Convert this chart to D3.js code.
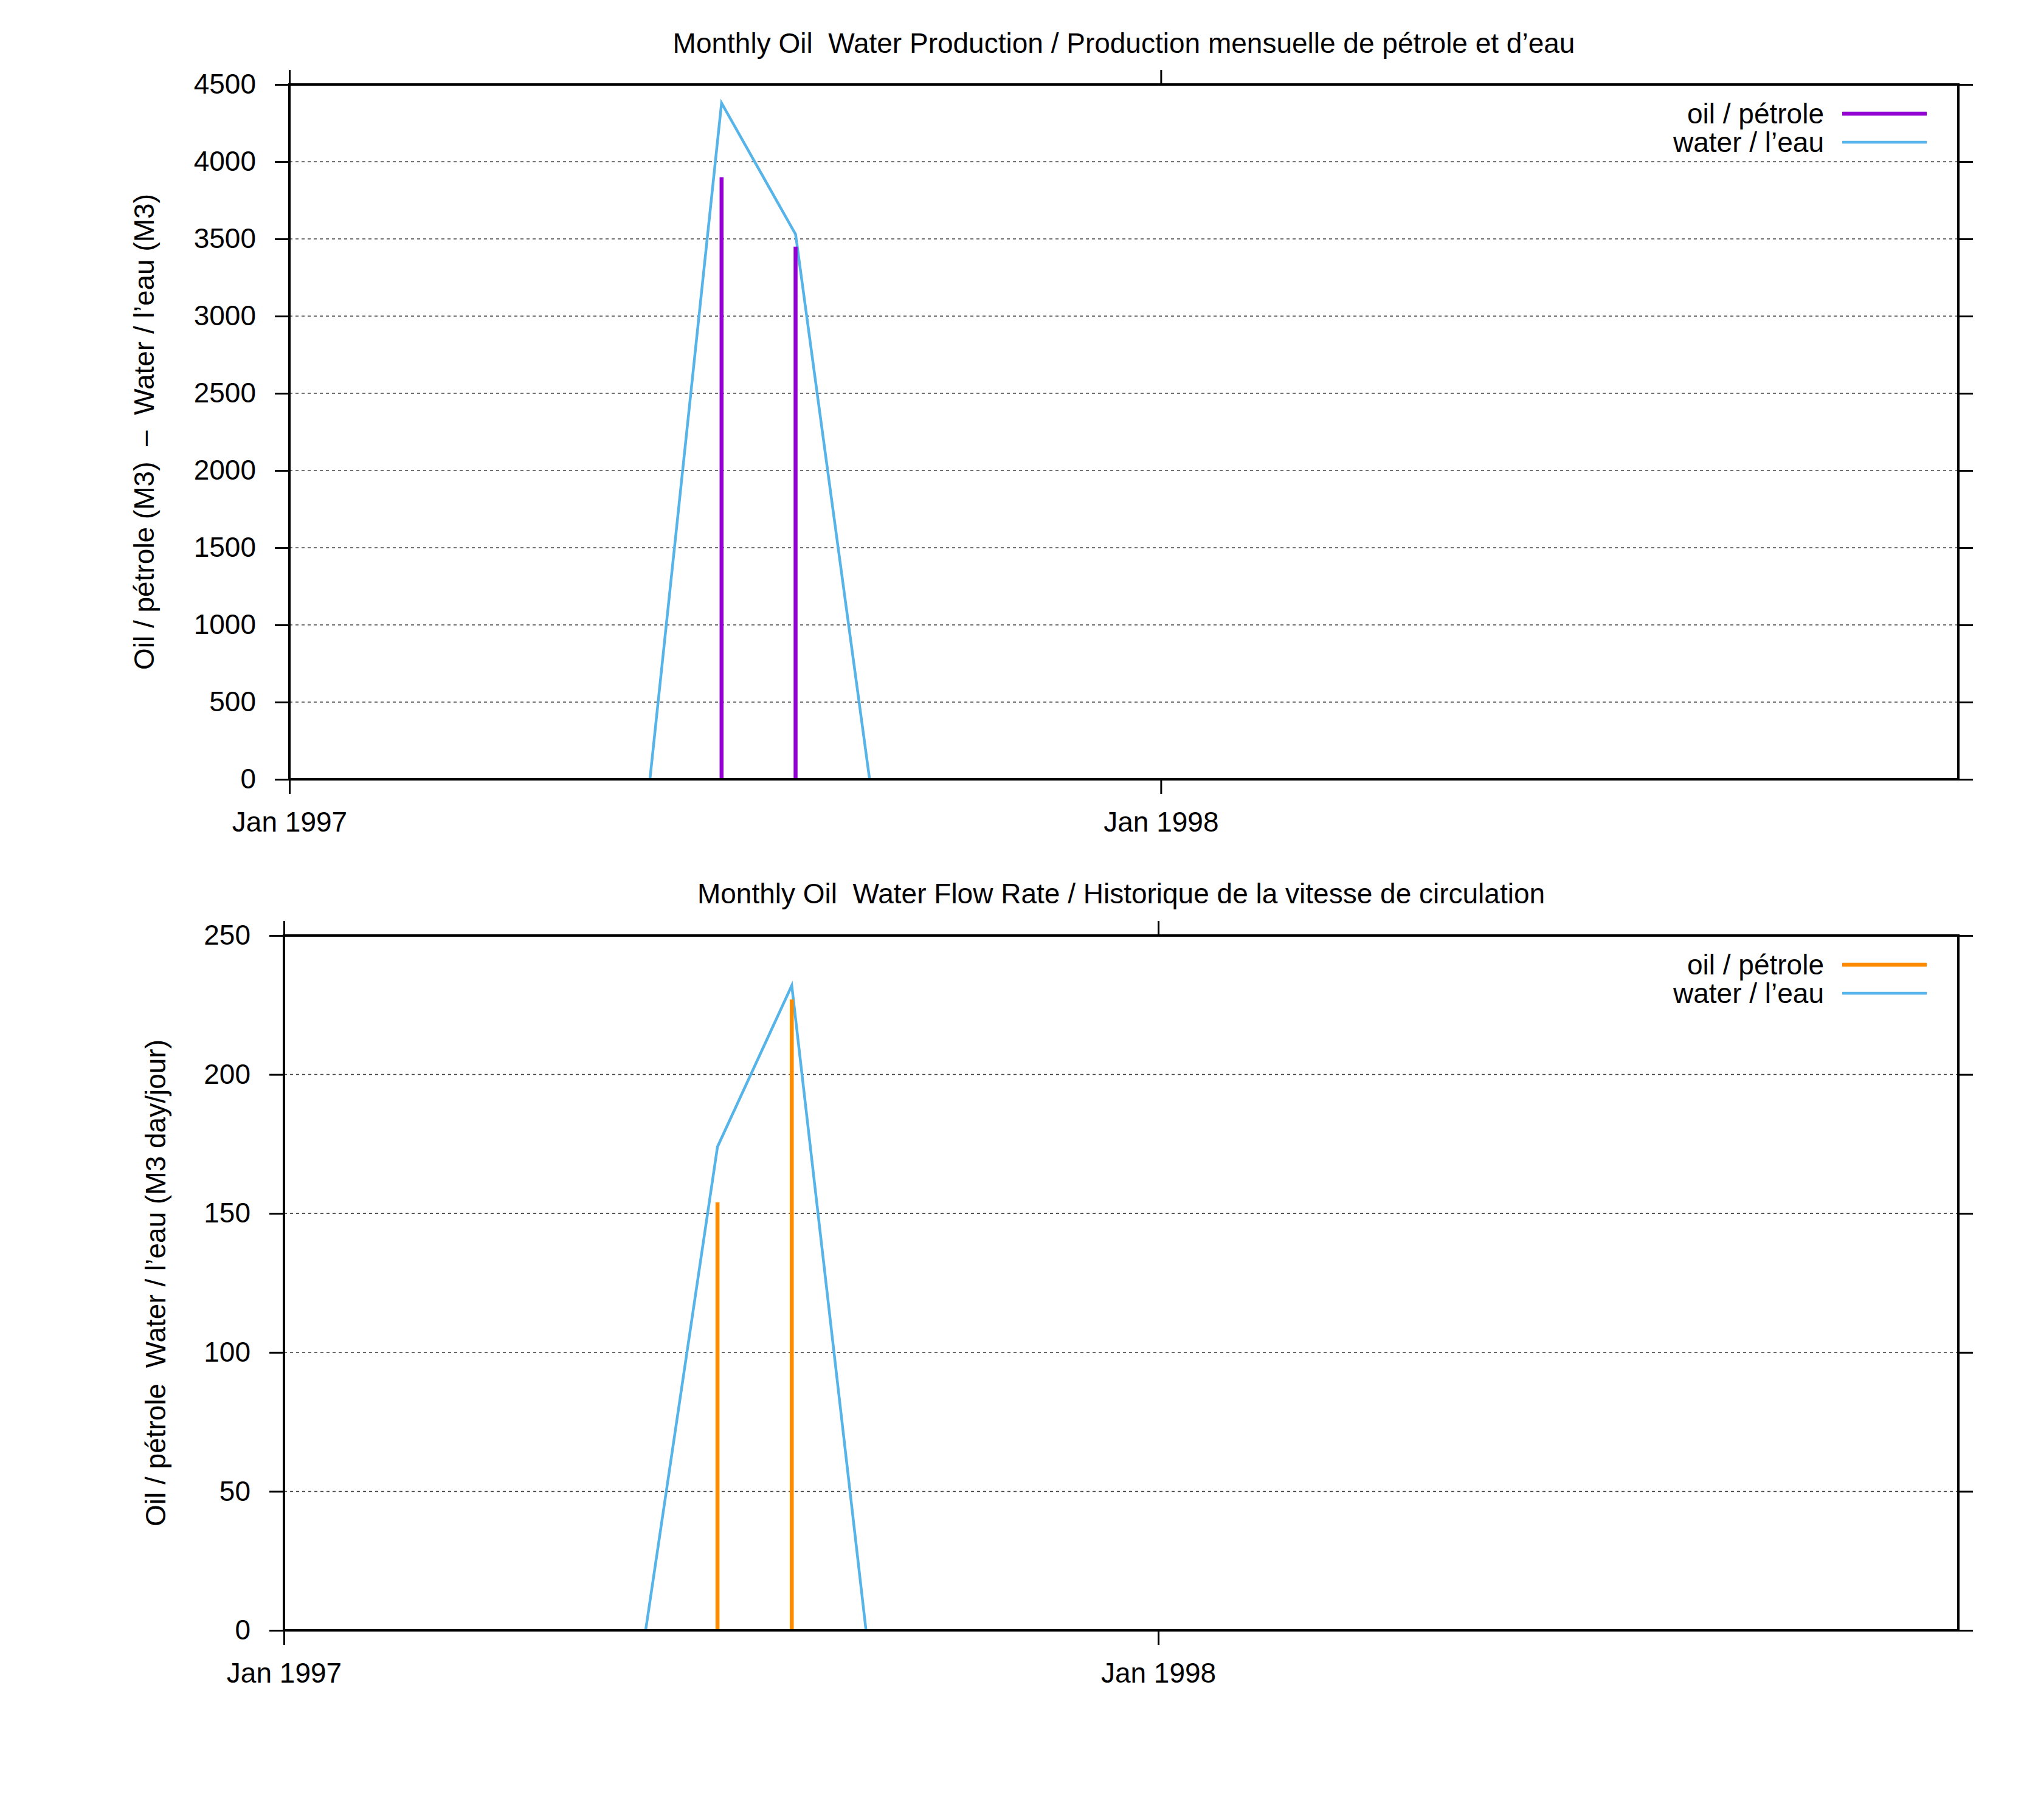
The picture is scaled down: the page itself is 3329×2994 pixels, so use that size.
<!DOCTYPE html>
<html>
<head>
<meta charset="utf-8">
<script src="https://cdn.jsdelivr.net/npm/d3@7"></script>
<style>
  html, body { margin: 0; padding: 0; background: #fff; }
  svg text { font-family: "Liberation Sans", Arial, sans-serif; fill: #000; white-space: pre; }
</style>
</head>
<body>
<div id="chart"></div>
<script>
// Monthly values
const waterMonths = ["1997-06-01", "1997-07-01", "1997-08-01", "1997-09-01"];
const oilMonths = ["1997-07-01", "1997-08-01"];

const waterProduction = [0, 4380, 3530, 0];
const oilProduction = [3900, 3450];

const waterRate = [0, 174, 232, 0];
const oilRate = [154, 227];

const productionTicks = [0, 500, 1000, 1500, 2000, 2500, 3000, 3500, 4000, 4500];
const rateTicks = [0, 50, 100, 150, 200, 250];
const dateTicks = ["1997-01-01", "1998-01-01"];
const dateDomain = ["1997-01-01", "1998-12-01"];

const legendLabels = ["oil / pétrole", "water / l’eau"];

const parseDate = d3.timeParse("%Y-%m-%d");
const fmtDate = d3.timeFormat("%b %Y");

const W = 3329, H = 2994;
const svg = d3.select("#chart").append("svg")
  .attr("width", W)
  .attr("height", H);

const WATER = "#56b4e9";

function drawPanel(cfg) {
  const g = svg.append("g");
  const x = d3.scaleTime()
    .domain(dateDomain.map(parseDate))
    .range([cfg.left, cfg.right]);
  const y = d3.scaleLinear()
    .domain([0, cfg.yMax])
    .range([cfg.bottom, cfg.top]);

  // Horizontal dashed grid
  g.append("g")
    .selectAll("line")
    .data(cfg.yTicks.filter(v => v > 0 && v < cfg.yMax))
    .enter()
    .append("line")
      .attr("x1", cfg.left)
      .attr("x2", cfg.right)
      .attr("y1", d => y(d))
      .attr("y2", d => y(d))
      .attr("stroke", "#444")
      .attr("stroke-width", 1.5)
      .attr("stroke-dasharray", "5,5");

  // Axes, ticks mirrored on all four sides, pointing outward
  const tickLen = 24;
  const axes = [
    [d3.axisLeft(y).tickValues(cfg.yTicks).tickFormat(d3.format("d")), cfg.left, 0],
    [d3.axisRight(y).tickValues(cfg.yTicks).tickFormat(""), cfg.right, 0],
    [d3.axisBottom(x).tickValues(dateTicks.map(parseDate)).tickFormat(fmtDate), 0, cfg.bottom],
    [d3.axisTop(x).tickValues(dateTicks.map(parseDate)).tickFormat(""), 0, cfg.top]
  ];
  axes.forEach(([axis, tx, ty]) => {
    const a = g.append("g")
      .attr("transform", `translate(${tx},${ty})`)
      .call(axis.tickSize(tickLen).tickSizeOuter(0).tickPadding(31));
    a.select(".domain").remove();
    a.selectAll(".tick line").attr("stroke", "#000").attr("stroke-width", 3);
    a.selectAll(".tick text")
      .style("font-size", "46px")
      .attr("fill", "#000");
  });
  // put the date labels on the picture's baseline
  g.selectAll(".tick text").filter(function () { return /Jan/.test(this.textContent); })
    .attr("y", 86).attr("dy", "0");

  // Water line
  const waterData = waterMonths.map((m, i) => [parseDate(m), cfg.water[i]]);
  g.append("path")
    .datum(waterData)
    .attr("fill", "none")
    .attr("stroke", WATER)
    .attr("stroke-width", 4.5)
    .attr("stroke-linejoin", "miter")
    .attr("d", d3.line().x(d => x(d[0])).y(d => y(d[1])));

  // Oil impulses
  g.append("g")
    .selectAll("line")
    .data(oilMonths.map((m, i) => [parseDate(m), cfg.oil[i]]))
    .enter()
    .append("line")
      .attr("x1", d => x(d[0]))
      .attr("x2", d => x(d[0]))
      .attr("y1", y(0))
      .attr("y2", d => y(d[1]))
      .attr("stroke", cfg.oilColor)
      .attr("stroke-width", 6.5);

  // Border on top of the data
  g.append("rect")
    .attr("x", cfg.left)
    .attr("y", cfg.top)
    .attr("width", cfg.right - cfg.left)
    .attr("height", cfg.bottom - cfg.top)
    .attr("fill", "none")
    .attr("stroke", "#000")
    .attr("stroke-width", 4);

  // Title
  g.append("text")
    .attr("x", (cfg.left + cfg.right) / 2)
    .attr("y", cfg.titleY)
    .attr("text-anchor", "middle")
    .style("font-size", "46px")
    .text(cfg.title);

  // Y label
  g.append("text")
    .attr("transform", `translate(${cfg.yLabelX},${(cfg.top + cfg.bottom) / 2}) rotate(-90)`)
    .attr("text-anchor", "middle")
    .style("font-size", "46px")
    .text(cfg.yLabel);

  // Legend
  const legendColors = [cfg.oilColor, WATER];
  const legendWidths = [6.5, 4.5];
  legendLabels.forEach((lab, i) => {
    const ly = cfg.top + 48 + i * 47;
    g.append("text")
      .attr("x", 3000)
      .attr("y", ly)
      .attr("dy", "0.35em")
      .attr("text-anchor", "end")
      .style("font-size", "46px")
      .text(lab);
    g.append("line")
      .attr("x1", 3030)
      .attr("x2", 3169)
      .attr("y1", ly)
      .attr("y2", ly)
      .attr("stroke", legendColors[i])
      .attr("stroke-width", legendWidths[i]);
  });
}

drawPanel({
  left: 476, right: 3221, top: 139, bottom: 1282,
  yMax: 4500, yTicks: productionTicks,
  water: waterProduction, oil: oilProduction, oilColor: "#9400d3",
  title: "Monthly Oil  Water Production / Production mensuelle de pétrole et d’eau",
  titleY: 87,
  yLabel: "Oil / pétrole (M3)  –  Water / l’eau (M3)",
  yLabelX: 253
});

drawPanel({
  left: 467, right: 3221, top: 1539, bottom: 2682,
  yMax: 250, yTicks: rateTicks,
  water: waterRate, oil: oilRate, oilColor: "#ff8c00",
  title: "Monthly Oil  Water Flow Rate / Historique de la vitesse de circulation",
  titleY: 1486,
  yLabel: "Oil / pétrole  Water / l’eau (M3 day/jour)",
  yLabelX: 272
});
</script>
</body>
</html>
